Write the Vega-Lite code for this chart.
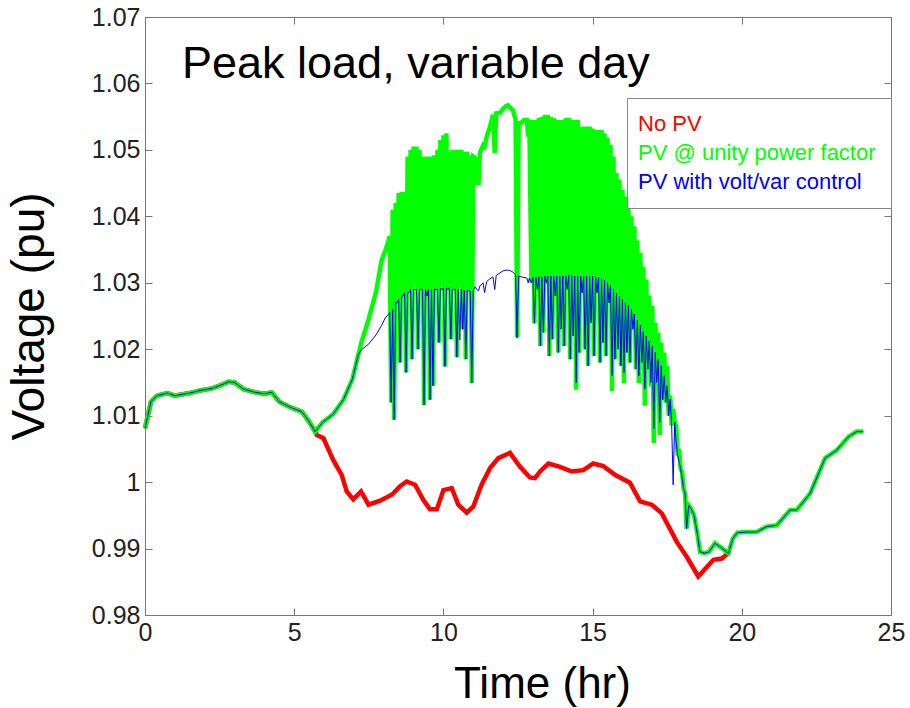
{
  "$schema": "https://vega.github.io/schema/vega-lite/v6.json",
  "width": 746,
  "height": 598,
  "autosize": {"type": "none"},
  "padding": {"left": 145, "top": 17, "right": 19, "bottom": 93},
  "background": "white",
  "title": {"text": "Peak load, variable day", "anchor": "start", "frame": "group", "fontSize": 45, "fontWeight": "normal", "color": "black", "font": "Liberation Sans", "baseline": "alphabetic", "dx": 37, "dy": 118, "offset": 0},
  "config": {"font": "Liberation Sans", "view": {"stroke": null}},
  "datasets": {
    "nopv": [
      {"t": 0, "v": 1.0081}, {"t": 0.2, "v": 1.0121}, {"t": 0.4, "v": 1.013}, {"t": 0.75, "v": 1.0134}, {"t": 1.0, "v": 1.013},
      {"t": 1.5, "v": 1.0134}, {"t": 1.85, "v": 1.0138}, {"t": 2.25, "v": 1.0141}, {"t": 2.55, "v": 1.0146}, {"t": 2.8, "v": 1.0151},
      {"t": 3.0, "v": 1.015}, {"t": 3.3, "v": 1.014}, {"t": 3.7, "v": 1.0135}, {"t": 4.0, "v": 1.0133}, {"t": 4.25, "v": 1.0135},
      {"t": 4.5, "v": 1.0121}, {"t": 4.85, "v": 1.0113}, {"t": 5.25, "v": 1.0106}, {"t": 5.47, "v": 1.0093}, {"t": 5.7, "v": 1.0076},
      {"t": 5.75, "v": 1.0071}, {"t": 5.98, "v": 1.0066}, {"t": 6.31, "v": 1.0033}, {"t": 6.59, "v": 1.0011}, {"t": 6.76, "v": 0.9986},
      {"t": 6.98, "v": 0.9974}, {"t": 7.24, "v": 0.9986}, {"t": 7.49, "v": 0.9966}, {"t": 7.88, "v": 0.9972}, {"t": 8.27, "v": 0.9981},
      {"t": 8.55, "v": 0.9994}, {"t": 8.77, "v": 1.0001}, {"t": 9.05, "v": 0.9996}, {"t": 9.33, "v": 0.9973}, {"t": 9.55, "v": 0.9959},
      {"t": 9.78, "v": 0.9959}, {"t": 10.0, "v": 0.9988}, {"t": 10.28, "v": 0.9991}, {"t": 10.5, "v": 0.9966}, {"t": 10.78, "v": 0.9954},
      {"t": 11.0, "v": 0.9963}, {"t": 11.28, "v": 0.9996}, {"t": 11.56, "v": 1.0021}, {"t": 11.84, "v": 1.0036}, {"t": 12.23, "v": 1.0044},
      {"t": 12.57, "v": 1.0023}, {"t": 12.9, "v": 1.0007}, {"t": 13.07, "v": 1.0006}, {"t": 13.24, "v": 1.0016}, {"t": 13.52, "v": 1.0028},
      {"t": 13.91, "v": 1.0023}, {"t": 14.3, "v": 1.0016}, {"t": 14.69, "v": 1.0018}, {"t": 15.02, "v": 1.0028}, {"t": 15.36, "v": 1.0024},
      {"t": 15.75, "v": 1.0011}, {"t": 16.25, "v": 0.9999}, {"t": 16.59, "v": 0.9971}, {"t": 16.98, "v": 0.9966}, {"t": 17.32, "v": 0.9953},
      {"t": 17.82, "v": 0.991}, {"t": 18.15, "v": 0.9888}, {"t": 18.54, "v": 0.9858}, {"t": 19.05, "v": 0.9883}, {"t": 19.33, "v": 0.9885},
      {"t": 19.6, "v": 0.9895}
    ],
    "pv": [
      {"t": 0, "g": 1.0081, "b": 1.0081}, {"t": 0.2, "g": 1.0121, "b": 1.0121}, {"t": 0.4, "g": 1.013, "b": 1.013},
      {"t": 0.75, "g": 1.0134, "b": 1.0134}, {"t": 1.0, "g": 1.013, "b": 1.013}, {"t": 1.5, "g": 1.0134, "b": 1.0134},
      {"t": 1.85, "g": 1.0138, "b": 1.0138}, {"t": 2.25, "g": 1.0141, "b": 1.0141}, {"t": 2.55, "g": 1.0146, "b": 1.0146},
      {"t": 2.8, "g": 1.0151, "b": 1.0151}, {"t": 3.0, "g": 1.015, "b": 1.015}, {"t": 3.3, "g": 1.014, "b": 1.014},
      {"t": 3.7, "g": 1.0135, "b": 1.0135}, {"t": 4.0, "g": 1.0133, "b": 1.0133}, {"t": 4.25, "g": 1.0135, "b": 1.0135},
      {"t": 4.5, "g": 1.0121, "b": 1.0121}, {"t": 4.85, "g": 1.0113, "b": 1.0113}, {"t": 5.25, "g": 1.0106, "b": 1.0106},
      {"t": 5.47, "g": 1.0093, "b": 1.0093}, {"t": 5.7, "g": 1.0076, "b": 1.0076}, {"t": 5.95, "g": 1.009, "b": 1.009},
      {"t": 6.3, "g": 1.0102, "b": 1.0102}, {"t": 6.65, "g": 1.0124, "b": 1.0124}, {"t": 6.95, "g": 1.0155, "b": 1.0155},
      {"t": 7.15, "g": 1.0192, "b": 1.0192}, {"t": 7.25, "g": 1.021, "b": 1.0199}, {"t": 7.5, "g": 1.0246, "b": 1.0208},
      {"t": 7.75, "g": 1.0288, "b": 1.0222}, {"t": 7.93, "g": 1.0334, "b": 1.0236}, {"t": 8.05, "g": 1.0348, "b": 1.0247},
      {"t": 8.15, "g": 1.0362, "b": 1.0252},
      {"t": 8.2, "g": 1.037, "b": 1.0255}, {"t": 8.25, "g": 1.012, "b": 1.012}, {"t": 8.3, "g": 1.041, "b": 1.026},
      {"t": 8.35, "g": 1.0094, "b": 1.0094}, {"t": 8.4, "g": 1.042, "b": 1.027}, {"t": 8.45, "g": 1.028, "b": 1.027},
      {"t": 8.5, "g": 1.0435, "b": 1.0275}, {"t": 8.55, "g": 1.018, "b": 1.018}, {"t": 8.6, "g": 1.0437, "b": 1.028},
      {"t": 8.65, "g": 1.029, "b": 1.028}, {"t": 8.7, "g": 1.0437, "b": 1.0285}, {"t": 8.75, "g": 1.0165, "b": 1.0165},
      {"t": 8.8, "g": 1.049, "b": 1.0285}, {"t": 8.85, "g": 1.029, "b": 1.0285}, {"t": 8.9, "g": 1.05, "b": 1.029},
      {"t": 8.95, "g": 1.0185, "b": 1.0185}, {"t": 9.0, "g": 1.0505, "b": 1.029}, {"t": 9.05, "g": 1.03, "b": 1.029},
      {"t": 9.1, "g": 1.0505, "b": 1.029}, {"t": 9.15, "g": 1.02, "b": 1.02}, {"t": 9.2, "g": 1.05, "b": 1.029},
      {"t": 9.25, "g": 1.029, "b": 1.029}, {"t": 9.3, "g": 1.049, "b": 1.029}, {"t": 9.35, "g": 1.0116, "b": 1.0116},
      {"t": 9.4, "g": 1.049, "b": 1.029}, {"t": 9.45, "g": 1.028, "b": 1.028}, {"t": 9.5, "g": 1.049, "b": 1.029},
      {"t": 9.55, "g": 1.0124, "b": 1.0124}, {"t": 9.6, "g": 1.049, "b": 1.029}, {"t": 9.65, "g": 1.0145, "b": 1.0145},
      {"t": 9.7, "g": 1.0492, "b": 1.029}, {"t": 9.75, "g": 1.029, "b": 1.029}, {"t": 9.8, "g": 1.05, "b": 1.029},
      {"t": 9.85, "g": 1.021, "b": 1.021}, {"t": 9.9, "g": 1.0515, "b": 1.0292}, {"t": 9.95, "g": 1.03, "b": 1.029},
      {"t": 10.0, "g": 1.0522, "b": 1.0292}, {"t": 10.05, "g": 1.0174, "b": 1.0174}, {"t": 10.1, "g": 1.0525, "b": 1.0292},
      {"t": 10.15, "g": 1.029, "b": 1.029}, {"t": 10.2, "g": 1.0497, "b": 1.0292}, {"t": 10.25, "g": 1.0215, "b": 1.0215},
      {"t": 10.3, "g": 1.05, "b": 1.029}, {"t": 10.35, "g": 1.029, "b": 1.029}, {"t": 10.4, "g": 1.05, "b": 1.029},
      {"t": 10.45, "g": 1.0188, "b": 1.0188}, {"t": 10.5, "g": 1.05, "b": 1.029}, {"t": 10.55, "g": 1.0295, "b": 1.0214},
      {"t": 10.6, "g": 1.05, "b": 1.029}, {"t": 10.65, "g": 1.023, "b": 1.023}, {"t": 10.7, "g": 1.0497, "b": 1.0289},
      {"t": 10.75, "g": 1.0185, "b": 1.0185}, {"t": 10.8, "g": 1.0497, "b": 1.0289}, {"t": 10.85, "g": 1.029, "b": 1.0288},
      {"t": 10.9, "g": 1.0492, "b": 1.0287}, {"t": 10.95, "g": 1.0149, "b": 1.0149}, {"t": 11.0, "g": 1.049, "b": 1.0288},
      {"t": 11.06, "g": 1.0488, "b": 1.0294}, {"t": 11.12, "g": 1.045, "b": 1.029}, {"t": 11.18, "g": 1.045, "b": 1.0288},
      {"t": 11.22, "g": 1.0495, "b": 1.0295}, {"t": 11.33, "g": 1.0507, "b": 1.03}, {"t": 11.38, "g": 1.0505, "b": 1.0285},
      {"t": 11.45, "g": 1.052, "b": 1.0302}, {"t": 11.56, "g": 1.0535, "b": 1.0306}, {"t": 11.66, "g": 1.0553, "b": 1.0309},
      {"t": 11.72, "g": 1.0495, "b": 1.029}, {"t": 11.77, "g": 1.0555, "b": 1.0311}, {"t": 11.9, "g": 1.0556, "b": 1.0315},
      {"t": 12.0, "g": 1.0562, "b": 1.0318}, {"t": 12.1, "g": 1.0566, "b": 1.0319}, {"t": 12.17, "g": 1.0567, "b": 1.0319},
      {"t": 12.25, "g": 1.0563, "b": 1.0318}, {"t": 12.33, "g": 1.056, "b": 1.0316}, {"t": 12.42, "g": 1.0545, "b": 1.0312},
      {"t": 12.47, "g": 1.0218, "b": 1.0217}, {"t": 12.52, "g": 1.054, "b": 1.031}, {"t": 12.6, "g": 1.054, "b": 1.0309},
      {"t": 12.7, "g": 1.0545, "b": 1.0308}, {"t": 12.8, "g": 1.0545, "b": 1.0307}, {"t": 12.84, "g": 1.052, "b": 1.03},
      {"t": 12.88, "g": 1.0545, "b": 1.0307},
      {"t": 12.95, "g": 1.03, "b": 1.03}, {"t": 13.0, "g": 1.0545, "b": 1.0308}, {"t": 13.05, "g": 1.0239, "b": 1.0239},
      {"t": 13.1, "g": 1.0545, "b": 1.0308}, {"t": 13.15, "g": 1.029, "b": 1.029}, {"t": 13.2, "g": 1.0548, "b": 1.0309},
      {"t": 13.25, "g": 1.0205, "b": 1.0205}, {"t": 13.3, "g": 1.055, "b": 1.0309}, {"t": 13.35, "g": 1.0225, "b": 1.0225},
      {"t": 13.4, "g": 1.0553, "b": 1.031}, {"t": 13.45, "g": 1.03, "b": 1.03}, {"t": 13.5, "g": 1.0553, "b": 1.031},
      {"t": 13.55, "g": 1.019, "b": 1.019}, {"t": 13.6, "g": 1.055, "b": 1.031}, {"t": 13.65, "g": 1.0215, "b": 1.0215},
      {"t": 13.7, "g": 1.0548, "b": 1.031}, {"t": 13.75, "g": 1.028, "b": 1.028}, {"t": 13.8, "g": 1.0545, "b": 1.031},
      {"t": 13.85, "g": 1.0195, "b": 1.0195}, {"t": 13.9, "g": 1.0545, "b": 1.031}, {"t": 13.95, "g": 1.023, "b": 1.023},
      {"t": 14.0, "g": 1.0545, "b": 1.031}, {"t": 14.05, "g": 1.0205, "b": 1.0205}, {"t": 14.1, "g": 1.0548, "b": 1.0311},
      {"t": 14.15, "g": 1.029, "b": 1.029}, {"t": 14.2, "g": 1.0548, "b": 1.0311}, {"t": 14.25, "g": 1.0185, "b": 1.0185},
      {"t": 14.3, "g": 1.0545, "b": 1.0311}, {"t": 14.35, "g": 1.022, "b": 1.022}, {"t": 14.4, "g": 1.0545, "b": 1.031},
      {"t": 14.45, "g": 1.0139, "b": 1.015}, {"t": 14.5, "g": 1.0545, "b": 1.031}, {"t": 14.55, "g": 1.0195, "b": 1.0195},
      {"t": 14.6, "g": 1.0535, "b": 1.031}, {"t": 14.65, "g": 1.0285, "b": 1.0285}, {"t": 14.7, "g": 1.0535, "b": 1.031},
      {"t": 14.75, "g": 1.02, "b": 1.02}, {"t": 14.8, "g": 1.0535, "b": 1.031}, {"t": 14.85, "g": 1.0175, "b": 1.0175},
      {"t": 14.9, "g": 1.0535, "b": 1.031}, {"t": 14.95, "g": 1.024, "b": 1.024}, {"t": 15.0, "g": 1.0532, "b": 1.031},
      {"t": 15.05, "g": 1.019, "b": 1.019}, {"t": 15.1, "g": 1.053, "b": 1.0309}, {"t": 15.15, "g": 1.0285, "b": 1.0285},
      {"t": 15.2, "g": 1.053, "b": 1.0308}, {"t": 15.25, "g": 1.018, "b": 1.018}, {"t": 15.3, "g": 1.053, "b": 1.0306},
      {"t": 15.35, "g": 1.021, "b": 1.021}, {"t": 15.4, "g": 1.0525, "b": 1.0304}, {"t": 15.45, "g": 1.019, "b": 1.019},
      {"t": 15.5, "g": 1.0518, "b": 1.03}, {"t": 15.55, "g": 1.027, "b": 1.027}, {"t": 15.6, "g": 1.0508, "b": 1.0296},
      {"t": 15.65, "g": 1.0137, "b": 1.016}, {"t": 15.7, "g": 1.049, "b": 1.029}, {"t": 15.75, "g": 1.0185, "b": 1.0185},
      {"t": 15.8, "g": 1.0465, "b": 1.0284}, {"t": 15.85, "g": 1.02, "b": 1.02}, {"t": 15.9, "g": 1.0455, "b": 1.028},
      {"t": 15.95, "g": 1.0175, "b": 1.0175}, {"t": 16.0, "g": 1.044, "b": 1.0275}, {"t": 16.05, "g": 1.0149, "b": 1.0165},
      {"t": 16.1, "g": 1.043, "b": 1.027}, {"t": 16.15, "g": 1.0195, "b": 1.0195}, {"t": 16.2, "g": 1.0415, "b": 1.0266},
      {"t": 16.25, "g": 1.018, "b": 1.018}, {"t": 16.3, "g": 1.04, "b": 1.026}, {"t": 16.35, "g": 1.023, "b": 1.023},
      {"t": 16.4, "g": 1.0385, "b": 1.0253}, {"t": 16.45, "g": 1.017, "b": 1.017}, {"t": 16.5, "g": 1.0364, "b": 1.0244},
      {"t": 16.55, "g": 1.0149, "b": 1.016}, {"t": 16.6, "g": 1.0345, "b": 1.0236}, {"t": 16.65, "g": 1.018, "b": 1.018},
      {"t": 16.7, "g": 1.0324, "b": 1.0227}, {"t": 16.75, "g": 1.0115, "b": 1.014}, {"t": 16.8, "g": 1.0305, "b": 1.022},
      {"t": 16.85, "g": 1.017, "b": 1.017}, {"t": 16.9, "g": 1.028, "b": 1.0212}, {"t": 16.95, "g": 1.0144, "b": 1.015},
      {"t": 17.0, "g": 1.0265, "b": 1.0205}, {"t": 17.05, "g": 1.0059, "b": 1.008}, {"t": 17.1, "g": 1.024, "b": 1.0195},
      {"t": 17.15, "g": 1.015, "b": 1.015}, {"t": 17.2, "g": 1.0225, "b": 1.0185}, {"t": 17.25, "g": 1.0071, "b": 1.009},
      {"t": 17.3, "g": 1.021, "b": 1.0175}, {"t": 17.35, "g": 1.0124, "b": 1.0124}, {"t": 17.4, "g": 1.0195, "b": 1.016},
      {"t": 17.45, "g": 1.012, "b": 1.012}, {"t": 17.5, "g": 1.0175, "b": 1.0145}, {"t": 17.55, "g": 1.01, "b": 1.01},
      {"t": 17.6, "g": 1.013, "b": 1.0125}, {"t": 17.65, "g": 1.0085, "b": 1.0085}, {"t": 17.7, "g": 1.011, "b": 0.9996},
      {"t": 17.75, "g": 1.009, "b": 1.009}, {"t": 17.8, "g": 1.0085, "b": 1.006}, {"t": 17.85, "g": 1.004, "b": 1.004},
      {"t": 17.9, "g": 1.005, "b": 1.003}, {"t": 17.95, "g": 1.002, "b": 1.002}, {"t": 18.0, "g": 1.0015, "b": 1.0005},
      {"t": 18.05, "g": 0.999, "b": 0.999}, {"t": 18.1, "g": 0.9983, "b": 0.9983}, {"t": 18.15, "g": 0.993, "b": 0.993},
      {"t": 18.22, "g": 0.9965, "b": 0.9965}, {"t": 18.3, "g": 0.996, "b": 0.996}, {"t": 18.4, "g": 0.995, "b": 0.995},
      {"t": 18.5, "g": 0.9925, "b": 0.9925}, {"t": 18.6, "g": 0.9895, "b": 0.9895}, {"t": 18.75, "g": 0.9893, "b": 0.9893},
      {"t": 18.9, "g": 0.9895, "b": 0.9895}, {"t": 19.1, "g": 0.9908, "b": 0.9908}, {"t": 19.35, "g": 0.99, "b": 0.99},
      {"t": 19.55, "g": 0.9893, "b": 0.9893}, {"t": 19.7, "g": 0.9915, "b": 0.9915}, {"t": 19.85, "g": 0.9924, "b": 0.9924},
      {"t": 20.2, "g": 0.9925, "b": 0.9925}, {"t": 20.5, "g": 0.9925, "b": 0.9925}, {"t": 20.83, "g": 0.9933, "b": 0.9933},
      {"t": 21.17, "g": 0.9935, "b": 0.9935}, {"t": 21.62, "g": 0.9958, "b": 0.9958}, {"t": 21.84, "g": 0.9958, "b": 0.9958},
      {"t": 22.29, "g": 0.9983, "b": 0.9983}, {"t": 22.79, "g": 1.0036, "b": 1.0036}, {"t": 23.18, "g": 1.0048, "b": 1.0048},
      {"t": 23.57, "g": 1.0068, "b": 1.0068}, {"t": 23.85, "g": 1.0076, "b": 1.0076}, {"t": 24.07, "g": 1.0076, "b": 1.0076}
    ]
  },
  "layer": [
    {
      "data": {"name": "nopv"},
      "mark": {"type": "line", "color": "#ff0000", "strokeWidth": 4.5},
      "encoding": {
        "x": {"field": "t", "type": "quantitative", "scale": {"domain": [0, 25], "nice": false},
          "axis": {"orient": "bottom", "values": [0, 5, 10, 15, 20, 25], "format": "d", "title": "Time (hr)", "titleFontSize": 44, "titleFontWeight": "normal", "titleColor": "black", "titlePadding": 17, "titleX": 397, "titleAlign": "center", "labelFontSize": 25, "labelColor": "#222", "labelPadding": 12, "tickSize": -7, "tickColor": "#777", "domainColor": "#777", "grid": false, "labelFlush": false}},
        "y": {"field": "v", "type": "quantitative", "scale": {"domain": [0.98, 1.07], "nice": false, "zero": false},
          "axis": {"orient": "left", "values": [0.98, 0.99, 1.0, 1.01, 1.02, 1.03, 1.04, 1.05, 1.06, 1.07], "format": "~g", "title": "Voltage (pu)", "titleFontSize": 46, "titleFontWeight": "normal", "titleColor": "black", "titlePadding": 38, "labelFontSize": 25, "labelColor": "#222", "labelPadding": 12, "tickSize": -7, "tickColor": "#777", "domainColor": "#777", "grid": false, "labelFlush": false}},
        "color": {"datum": "No PV", "type": "nominal",
          "scale": {"domain": ["No PV", "PV @ unity power factor", "PV with volt/var control"], "range": ["#ff0000", "#00ff00", "#0000ff"]},
          "legend": {"orient": "none", "legendX": 482, "legendY": 81, "title": null, "symbolSize": 0, "symbolStrokeWidth": 0, "symbolOpacity": 0, "labelOffset": -26, "labelFontSize": 22, "labelLimit": 400, "padding": 15, "rowPadding": 7, "strokeColor": "#888", "fillColor": "white",
            "encode": {"labels": {"update": {"fill": {"scale": "color", "field": "value"}}}}}}
      }
    },
    {
      "data": {"name": "pv"},
      "mark": {"type": "line", "color": "#00ff00", "strokeWidth": 4.5},
      "encoding": {
        "x": {"field": "t", "type": "quantitative", "scale": {"domain": [0, 25], "nice": false},
          "axis": {"orient": "top", "values": [0, 5, 10, 15, 20, 25], "labels": false, "title": null, "tickSize": -7, "tickColor": "#777", "domainColor": "#777", "grid": false}},
        "y": {"field": "g", "type": "quantitative", "scale": {"domain": [0.98, 1.07], "nice": false, "zero": false},
          "axis": {"orient": "right", "values": [0.98, 0.99, 1.0, 1.01, 1.02, 1.03, 1.04, 1.05, 1.06, 1.07], "labels": false, "title": null, "tickSize": -7, "tickColor": "#777", "domainColor": "#777", "grid": false}},
        "color": {"datum": "PV @ unity power factor", "type": "nominal"}
      }
    },
    {
      "data": {"name": "pv"},
      "mark": {"type": "line", "color": "#0000ff", "strokeWidth": 1},
      "encoding": {
        "x": {"field": "t", "type": "quantitative", "axis": null},
        "y": {"field": "b", "type": "quantitative", "axis": null},
        "color": {"datum": "PV with volt/var control", "type": "nominal"}
      }
    }
  ]
}
